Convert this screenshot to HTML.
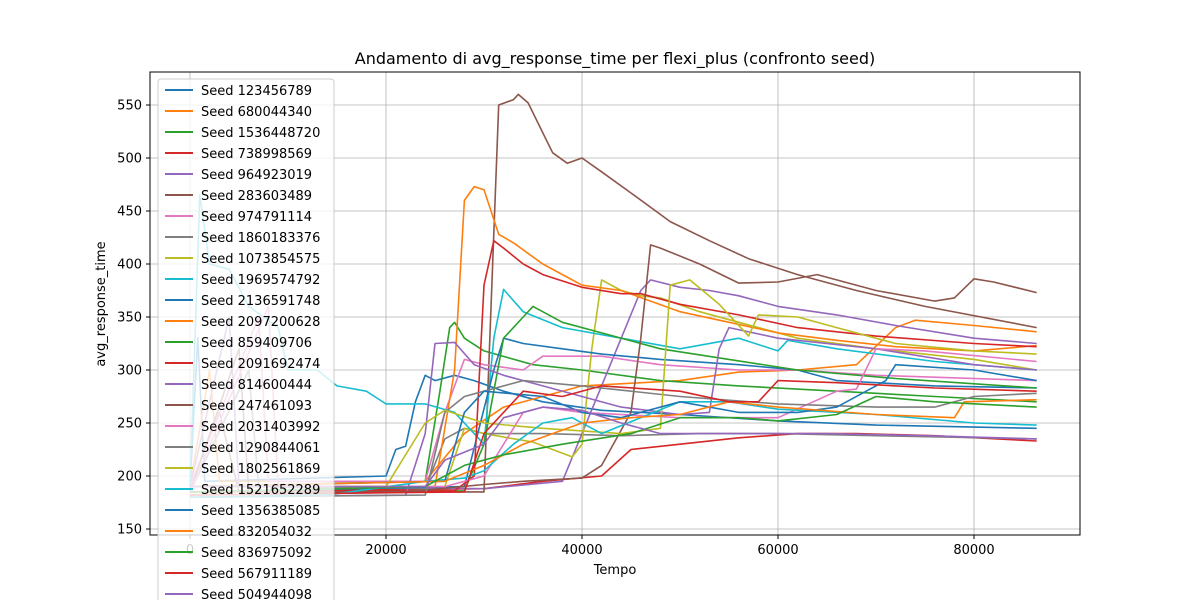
<!DOCTYPE html>
<html><head><meta charset="utf-8"><style>
html,body{margin:0;background:#fff;overflow:hidden;width:1200px;height:600px}
svg{display:block;overflow:hidden;font-family:"DejaVu Sans","Liberation Sans",sans-serif}
</style></head><body>
<svg id="chart" width="1200" height="600">
<text x="615" y="64" text-anchor="middle" font-size="16">Andamento di avg_response_time per flexi_plus (confronto seed)</text>
<text x="615" y="574" text-anchor="middle" font-size="13">Tempo</text>
<text transform="translate(105,304) rotate(-90)" text-anchor="middle" font-size="13">avg_response_time</text>
<defs><clipPath id="pc"><rect x="150" y="72" width="930" height="463"/></clipPath></defs>
<g id="grid"></g><g id="series" clip-path="url(#pc)"></g>
<rect x="150" y="72" width="930" height="463" fill="none" stroke="#000" stroke-width="1"/>
<g id="axes"></g><g id="legend"></g>
</svg>
<script>
const seeds=["123456789","680044340","1536448720","738998569","964923019","283603489","974791114","1860183376","1073854575","1969574792","2136591748","2097200628","859409706","2091692474","814600444","247461093","2031403992","1290844061","1802561869","1521652289","1356385085","832054032","836975092","567911189","504944098"];
const xTicks=[0,20000,40000,60000,80000];
const yTicks=[150,200,250,300,350,400,450,500,550];
// times in thousands, values avg_response_time
const s0=[[0,190],[0.8,330],[1.5,195],[20,200],[21,225],[22,228],[23,270],[24,295],[25,290],[27,295],[29,290],[32,280],[36,270],[42,262],[50,258],[60,252],[70,248],[86.4,245]];
const s1=[[0,190],[2,300],[3,195],[24,195],[28,240],[32,265],[36,275],[40,285],[50,290],[56,298],[62,300],[68,305],[72,340],[74,347],[80,342],[86.4,336]];
const s2=[[0,190],[24,195],[25.5,280],[26.5,340],[27,345],[28,330],[30,318],[35,305],[40,300],[48,290],[56,285],[66,280],[76,275],[86.4,270]];
const s3=[[0,185],[30,188],[36,195],[42,200],[45,225],[50,230],[56,236],[62,240],[68,240],[76,238],[86.4,233]];
const s4=[[0,190],[4,350],[5,190],[30,188],[38,195],[40,240],[44,330],[46,375],[47,385],[50,378],[53,375],[56,370],[60,360],[66,352],[72,342],[80,330],[86.4,325]];
const s5=[[0,190],[3,260],[5,185],[30,185],[31.5,550],[33,555],[33.5,560],[34.5,552],[37,505],[38.5,495],[40,500],[42,487],[45,467],[49,440],[53,422],[57,405],[62,390],[68,375],[75,360],[86.4,340]];
const s6=[[0,190],[7,350],[8,195],[24,195],[26,260],[28,310],[30,305],[34,300],[36,313],[42,313],[48,305],[56,300],[62,300],[70,295],[86.4,290]];
const s7=[[0,185],[6,300],[7,190],[24,188],[26,235],[28,245],[30,240],[36,240],[44,238],[52,240],[60,240],[70,238],[86.4,235]];
const s8=[[0,185],[26,190],[28,245],[30,240],[35,232],[39,218],[40,230],[41,320],[42,385],[44,375],[46,370],[48,368],[52,355],[56,345],[62,330],[70,320],[80,310],[86.4,300]];
const s9=[[0,190],[1,465],[2,400],[4,395],[6,360],[9,340],[10,300],[13,300],[15,285],[18,280],[20,268],[24,268],[27,260],[30,230],[31,330],[32,376],[34,355],[38,340],[44,330],[50,320],[56,330],[60,318],[61,328],[66,320],[76,308],[86.4,300]];
const s10=[[0,185],[28,190],[31,300],[32,330],[34,325],[38,320],[42,315],[48,310],[56,305],[62,300],[66,290],[76,285],[86.4,283]];
const s11=[[0,190],[25,190],[27,300],[28,460],[29,473],[30,470],[31.5,428],[33,420],[36,400],[40,380],[44,375],[47,365],[50,355],[55,345],[60,335],[66,328],[72,322],[80,318],[86.4,323]];
const s12=[[0,185],[28,186],[30,230],[32,330],[34,350],[35,360],[38,345],[42,335],[48,320],[55,310],[62,300],[72,292],[86.4,283]];
const s13=[[0,185],[27,186],[29,200],[30,380],[31,422],[32,415],[34,400],[36,390],[40,378],[44,372],[46,372],[50,362],[56,352],[62,340],[70,332],[80,325],[86.4,322]];
const s14=[[0,180],[22,182],[24,240],[25,325],[27,326],[29,305],[32,295],[36,285],[40,275],[44,265],[50,258],[53,260],[54,320],[55,340],[60,330],[70,320],[80,305],[86.4,300]];
const s15=[[0,185],[5,320],[6,185],[22,185],[30,192],[34,195],[40,198],[42,210],[45,260],[46,330],[47,418],[48,415],[52,400],[56,382],[60,383],[64,390],[70,375],[76,365],[78,368],[80,386],[82,383],[86.4,373]];
const s16=[[0,185],[8,360],[9,190],[26,190],[30,200],[34,260],[36,265],[40,260],[50,255],[60,255],[66,280],[68,282],[70,320],[75,318],[86.4,308]];
const s17=[[0,180],[24,182],[26,260],[28,275],[30,280],[34,290],[40,285],[50,275],[60,268],[70,265],[76,265],[80,275],[86.4,278]];
const s18=[[0,190],[20,190],[24,250],[26,262],[30,250],[36,245],[44,240],[48,245],[49,380],[51,385],[54,362],[57,332],[58,352],[62,350],[66,340],[72,325],[80,318],[86.4,315]];
const s19=[[0,180],[14,182],[24,195],[28,198],[30,205],[33,230],[36,250],[39,255],[42,240],[50,270],[55,270],[60,263],[70,258],[80,250],[86.4,248]];
const s20=[[0,190],[26,195],[28,260],[30,280],[36,275],[40,260],[44,255],[50,270],[56,260],[62,260],[66,265],[71,290],[72,305],[80,300],[86.4,290]];
const s21=[[0,190],[26,195],[30,210],[34,230],[40,250],[45,255],[50,258],[55,270],[60,265],[70,258],[78,255],[79,270],[86.4,272]];
const s22=[[0,185],[24,190],[28,210],[32,220],[38,230],[45,240],[50,255],[56,255],[60,252],[66,258],[70,275],[76,270],[86.4,265]];
const s23=[[0,182],[28,185],[30,240],[34,280],[38,275],[42,285],[50,280],[55,270],[58,270],[60,290],[66,288],[76,283],[86.4,280]];
const s24=[[0,190],[24,190],[26,215],[30,230],[32,255],[36,265],[40,262],[44,250],[48,240],[55,240],[65,240],[75,238],[86.4,235]];
const seriesData=[s0,s1,s2,s3,s4,s5,s6,s7,s8,s9,s10,s11,s12,s13,s14,s15,s16,s17,s18,s19,s20,s21,s22,s23,s24];
const colors=["#1f77b4","#ff7f0e","#2ca02c","#d62728","#9467bd","#8c564b","#e377c2","#7f7f7f","#bcbd22","#17becf"];
const NS="http://www.w3.org/2000/svg";
const xs=v=>190+v*0.0098;
const ys=v=>529-(v-150)*1.06;
const grid=document.getElementById('grid'),axes=document.getElementById('axes');
xTicks.forEach(t=>{
 const x=xs(t);
 const g=document.createElementNS(NS,'line');g.setAttribute('x1',x);g.setAttribute('x2',x);g.setAttribute('y1',72);g.setAttribute('y2',535);g.setAttribute('stroke','#b0b0b0');g.setAttribute('stroke-width','0.8');
 
 
 grid.appendChild(g);
 const tk=document.createElementNS(NS,'line');tk.setAttribute('x1',x);tk.setAttribute('x2',x);tk.setAttribute('y1',535);tk.setAttribute('y2',539);tk.setAttribute('stroke','#000');
 
 
 axes.appendChild(tk);
 const tx=document.createElementNS(NS,'text');tx.setAttribute('x',x);tx.setAttribute('y',554);tx.setAttribute('text-anchor','middle');tx.setAttribute('font-size','13');tx.textContent=t;
 
 
 axes.appendChild(tx);
});
yTicks.forEach(t=>{
 const y=ys(t);
 const g=document.createElementNS(NS,'line');g.setAttribute('x1',150);g.setAttribute('x2',1080);g.setAttribute('y1',y);g.setAttribute('y2',y);g.setAttribute('stroke','#b0b0b0');g.setAttribute('stroke-width','0.8');
 
 
 grid.appendChild(g);
 const tk=document.createElementNS(NS,'line');tk.setAttribute('x1',146);tk.setAttribute('x2',150);tk.setAttribute('y1',y);tk.setAttribute('y2',y);tk.setAttribute('stroke','#000');
 
 
 axes.appendChild(tk);
 const tx=document.createElementNS(NS,'text');tx.setAttribute('x',142);tx.setAttribute('y',y+4.5);tx.setAttribute('text-anchor','end');tx.setAttribute('font-size','13');tx.textContent=t;
 
 
 axes.appendChild(tx);
});
const sg=document.getElementById('series');
seriesData.forEach((d,i)=>{
 const p=document.createElementNS(NS,'polyline');
 p.setAttribute('points',d.map(q=>xs(q[0]*1000).toFixed(1)+','+ys(q[1]).toFixed(1)).join(' '));
 p.setAttribute('fill','none');p.setAttribute('stroke',colors[i%10]);p.setAttribute('stroke-width','1.6');p.setAttribute('stroke-linejoin','round');
 
 
 sg.appendChild(p);
});
const lg=document.getElementById('legend');
const box=document.createElementNS(NS,'rect');
box.setAttribute('x',158);box.setAttribute('y',79);box.setAttribute('width',176);box.setAttribute('height',530);box.setAttribute('rx',3);
box.setAttribute('fill','#fff');box.setAttribute('fill-opacity','0.8');box.setAttribute('stroke','#ccc');


lg.appendChild(box);
seeds.forEach((s,i)=>{
 const y=90+i*21;
 const g=document.createElementNS(NS,'g');
 
 
 const l=document.createElementNS(NS,'line');l.setAttribute('x1',165);l.setAttribute('x2',193);l.setAttribute('y1',y);l.setAttribute('y2',y);l.setAttribute('stroke',colors[i%10]);l.setAttribute('stroke-width','2');
 g.appendChild(l);
 const t=document.createElementNS(NS,'text');t.setAttribute('x',201);t.setAttribute('y',y+5);t.setAttribute('font-size','13');t.textContent='Seed '+s;
 g.appendChild(t);
 lg.appendChild(g);
});
</script>
</body></html>
